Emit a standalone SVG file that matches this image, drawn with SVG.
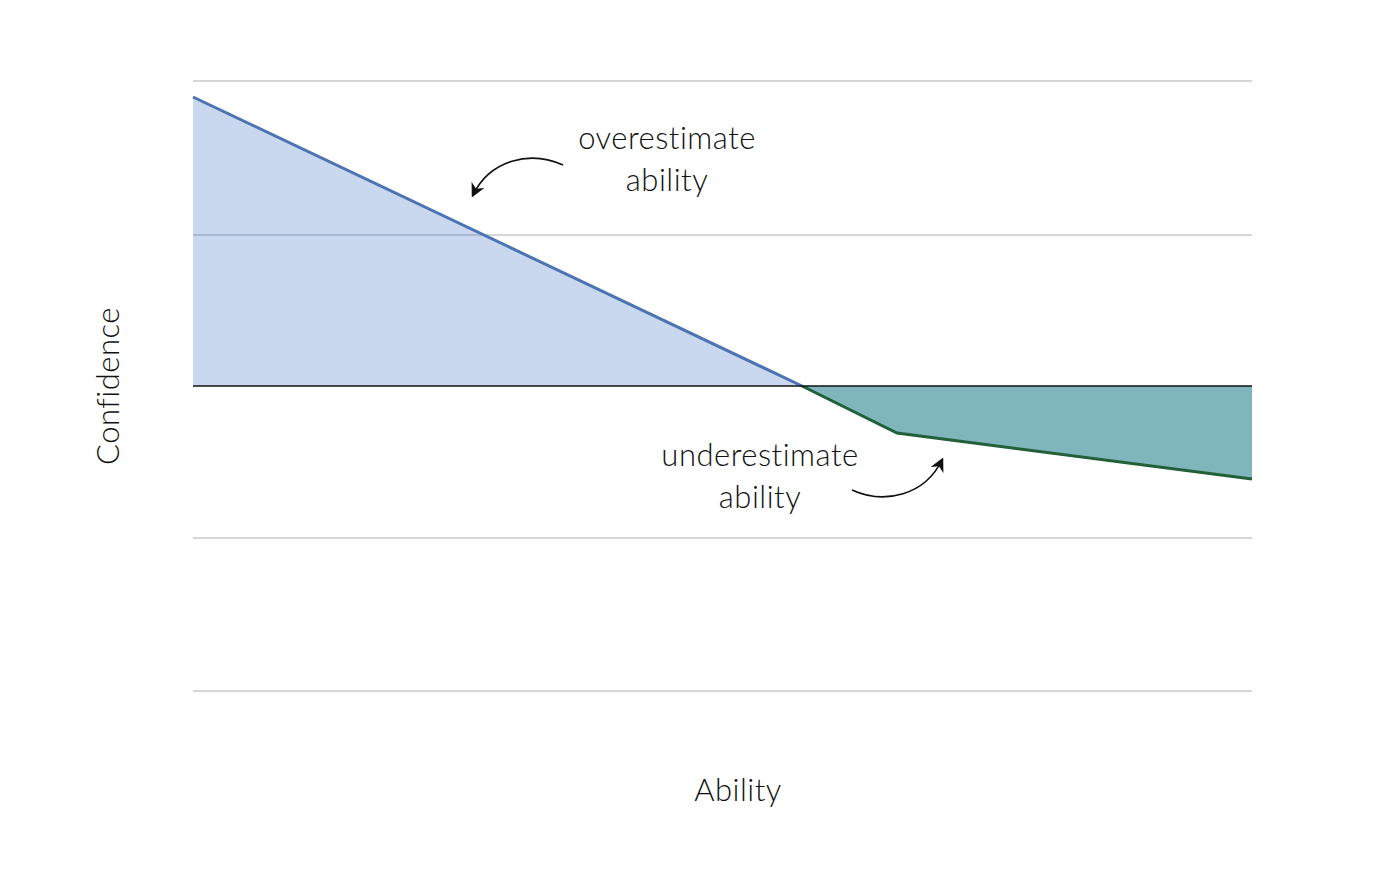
<svg xmlns="http://www.w3.org/2000/svg" width="1400" height="878" viewBox="0 0 1400 878">
<style>
.grid{stroke:#c8c8c8;stroke-width:1.5;fill:none}
.lbl{font-family:"Lato","Open Sans","Liberation Sans",sans-serif;font-size:31px;fill:#111;text-anchor:middle;font-weight:300;letter-spacing:0.5px;font-variant-ligatures:none}
.curve{fill:none;stroke:#111;stroke-width:1.7}
</style>
<defs>
<marker id="ah" viewBox="0 0 10 10" refX="8" refY="5" markerWidth="14" markerHeight="14" markerUnits="userSpaceOnUse" orient="auto">
<path d="M0,0 L10,5 L0,10 L3,5 Z" fill="#111"/>
</marker>
</defs>
<rect width="1400" height="878" fill="#fff"/>
<g id="grid">
<line class="grid" x1="193" y1="81" x2="1252" y2="81"/>
<line class="grid" x1="193" y1="235" x2="1252" y2="235"/>
<line class="grid" x1="193" y1="538" x2="1252" y2="538"/>
<line class="grid" x1="193" y1="691" x2="1252" y2="691"/>
</g>
<g id="over-area">
<polygon points="193,97 802,386 193,386" fill="#c9d8ee"/>
<line x1="193" y1="235" x2="485" y2="235" stroke="#9aaec8" stroke-width="1.5"/>
<line x1="193" y1="97" x2="802" y2="386" stroke="#4d74b2" stroke-width="3"/>
</g>
<g id="under-area">
<polygon points="802,386 897,433 1252,479 1252,386" fill="#7fb6bb"/>
<polyline points="802,386 897,433 1252,479" fill="none" stroke="#22603a" stroke-width="3"/>
</g>
<line id="axis" x1="193" y1="386" x2="1252" y2="386" stroke="#111" stroke-width="1.5"/>
<g id="connectors">
<path class="curve" d="M563,165 C530,150 490,160 473,195" marker-end="url(#ah)"/>
<path class="curve" d="M852,490 C885,505 925,495 942,460" marker-end="url(#ah)"/>
</g>
<g id="label-over">
<text class="lbl" x="667" y="149">overestimate</text>
<text class="lbl" x="667" y="191">ability</text>
</g>
<g id="label-under">
<text class="lbl" x="760" y="466">underestimate</text>
<text class="lbl" x="760" y="508">ability</text>
</g>
<g id="x-axis-label"><text class="lbl" x="738" y="801">Ability</text></g>
<g id="y-axis-label"><text class="lbl" transform="translate(119,386) rotate(-90)">Confidence</text></g>
</svg>
